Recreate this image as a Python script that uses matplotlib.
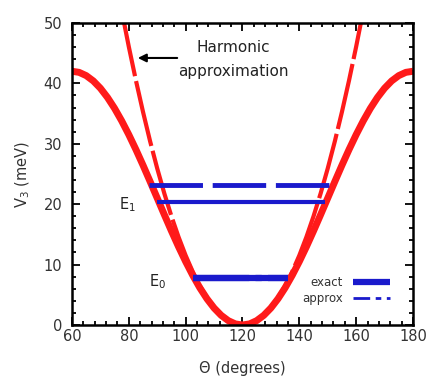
import matplotlib
matplotlib.use("Agg")
import matplotlib.pyplot as plt
from matplotlib.ticker import MultipleLocator

# Torsional potential V3 (meV) vs angle (degrees)
theta = [60, 62.5, 65, 67.5, 70, 72.5, 75, 77.5, 80, 82.5, 85, 87.5, 90, 92.5, 95, 97.5,
         100, 102.5, 105, 107.5, 110, 112.5, 115, 117.5, 120, 122.5, 125, 127.5, 130, 132.5,
         135, 137.5, 140, 142.5, 145, 147.5, 150, 152.5, 155, 157.5, 160, 162.5, 165, 167.5,
         170, 172.5, 175, 177.5, 180]
v3 = [42.0, 41.82, 41.28, 40.40, 39.19, 37.66, 35.85, 33.78, 31.5, 29.04, 26.44, 23.74,
      21.0, 18.26, 15.56, 12.96, 10.5, 8.22, 6.15, 4.34, 2.81, 1.60, 0.72, 0.18, 0.0,
      0.18, 0.72, 1.60, 2.81, 4.34, 6.15, 8.22, 10.5, 12.96, 15.56, 18.26, 21.0, 23.74,
      26.44, 29.04, 31.5, 33.78, 35.85, 37.66, 39.19, 40.40, 41.28, 41.82, 42.0]

# Harmonic approximation
theta_h = [77.5, 80, 82.5, 85, 87.5, 90, 92.5, 95, 97.5, 100, 102.5, 105, 107.5, 110, 112.5,
           115, 117.5, 120, 122.5, 125, 127.5, 130, 132.5, 135, 137.5, 140, 142.5, 145,
           147.5, 150, 152.5, 155, 157.5, 160, 162.5]
v_h = [52.0, 46.06, 40.48, 35.27, 30.40, 25.91, 21.77, 17.99, 14.57, 11.51, 8.82, 6.48,
       4.50, 2.88, 1.62, 0.72, 0.18, 0.0, 0.18, 0.72, 1.62, 2.88, 4.50, 6.48, 8.82, 11.51,
       14.57, 17.99, 21.77, 25.91, 30.40, 35.27, 40.48, 46.06, 52.0]

# Energy levels: (energy, theta_start, theta_end)
levels_exact = [(7.8, 102.5, 136.0), (20.4, 89.8, 149.0)]
levels_approx = [(7.7, 102.5, 136.0), (23.1, 87.1, 150.8)]

fig = plt.figure(figsize=(4.3, 3.79), dpi=100)
ax = fig.add_axes([0.1674, 0.1425, 0.793, 0.797])

red = '#ff1a1a'
blue = '#1a1acc'
ax.plot(theta, v3, color=red, lw=5, solid_capstyle='butt', zorder=2)
ax.plot(theta_h, v_h, color=red, lw=3, dashes=(16, 1.2), zorder=2)

for i, (e, a, b) in enumerate(levels_exact):
    ax.plot([a, b], [e, e], color=blue, lw=4.5 if i == 0 else 3,
            solid_capstyle='butt', zorder=3,
            label='exact' if i == 0 else None)
for i, (e, a, b) in enumerate(levels_approx):
    ax.plot([a, b], [e, e], color=blue, lw=3.5 if i == 1 else 4.5,
            dashes=(9, 1, 1, 1) if i == 0 else (11, 2), zorder=3)
# legend handle
ax.plot([], [], color=blue, lw=2, dashes=(6, 2, 2, 2), label='approx')

leg = ax.legend(loc='lower right', bbox_to_anchor=(0.965, 0.03), frameon=False,
                fontsize=8.5, handlelength=3.2, handletextpad=0.8, labelspacing=0.3,
                markerfirst=False)
for t in leg.get_texts():
    t.set_color('#333333')

ax.text(79.4, 20.0, r'E$_1$', fontsize=10.5, color='#222222', ha='center', va='center')
ax.text(90, 7.2, r'E$_0$', fontsize=10.5, color='#222222', ha='center', va='center')

ax.annotate('', xy=(82.2, 44.2), xytext=(98, 44.2),
            arrowprops=dict(arrowstyle='-|>', color='black', lw=1.5, mutation_scale=12))
ax.text(116.7, 45.9, 'Harmonic', fontsize=11, ha='center', va='center', color='#222222')
ax.text(116.7, 41.9, 'approximation', fontsize=11, ha='center', va='center', color='#222222')

ax.set_xlim(60, 180)
ax.set_ylim(0, 50)
ax.xaxis.set_major_locator(MultipleLocator(20))
ax.xaxis.set_minor_locator(MultipleLocator(4))
ax.yaxis.set_major_locator(MultipleLocator(10))
ax.yaxis.set_minor_locator(MultipleLocator(2))
ax.tick_params(which='both', direction='in', top=True, right=True, width=1.3,
               labelsize=10.5, labelcolor='#333333')
ax.tick_params(which='major', length=6)
ax.tick_params(which='minor', length=3)
ax.tick_params(axis='y', pad=7)
ax.tick_params(axis='x', pad=3)
for s in ax.spines.values():
    s.set_linewidth(1.8)

ax.set_xlabel('Θ (degrees)', fontsize=10.5, color='#333333', labelpad=12)
ax.set_ylabel(r'V$_3$ (meV)', fontsize=10.5, color='#333333', labelpad=8)

fig.savefig('out.png', dpi=100)
